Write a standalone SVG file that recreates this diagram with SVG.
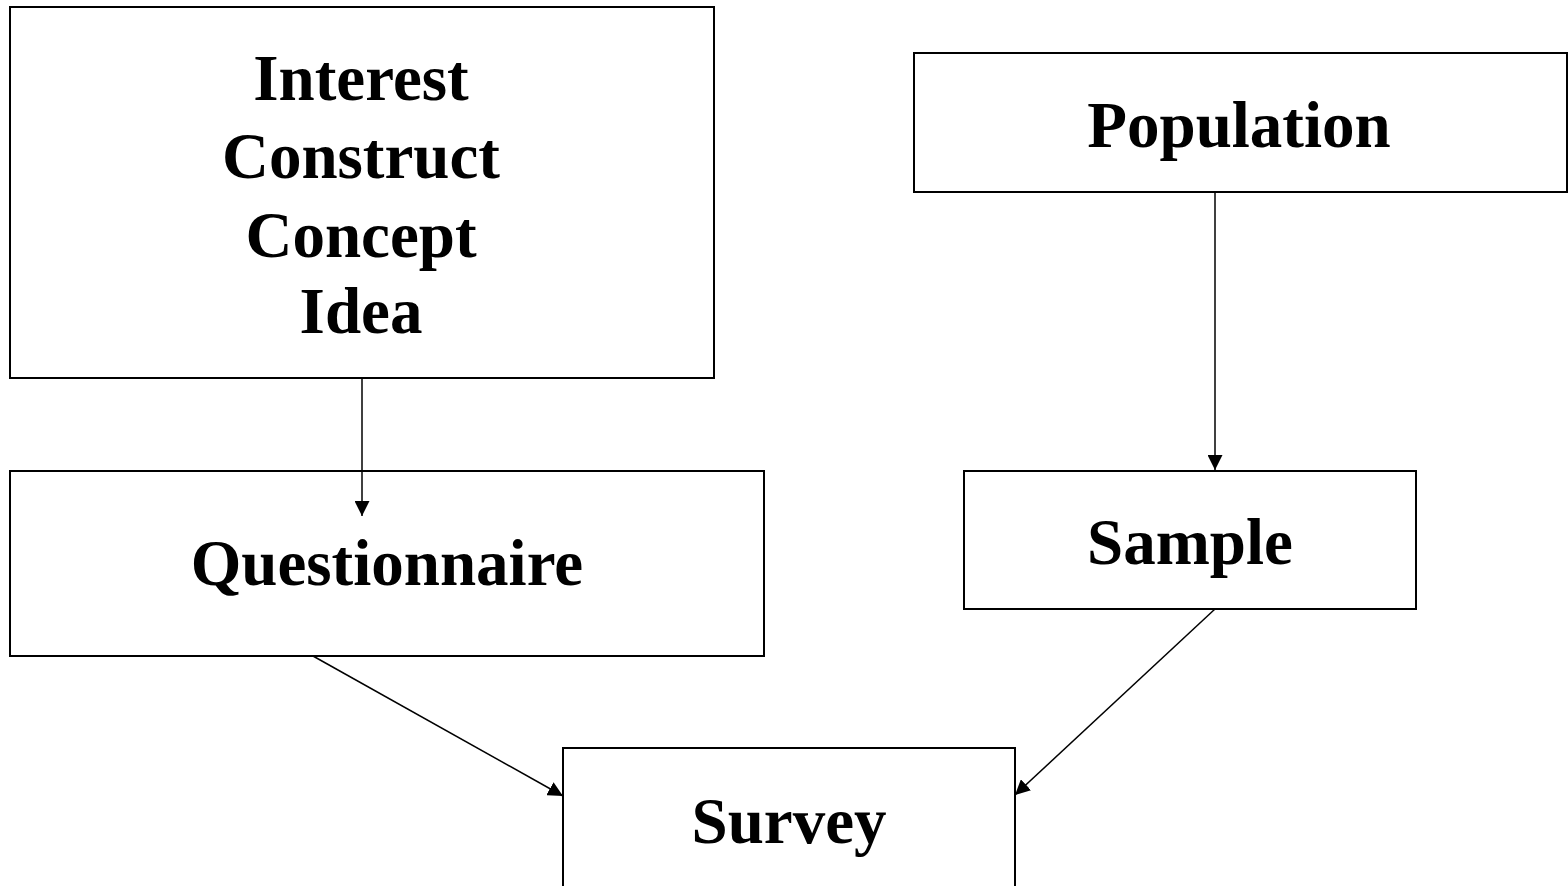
<svg xmlns="http://www.w3.org/2000/svg" width="1568" height="886" viewBox="0 0 1568 886">
<style>
.box{fill:#fff;stroke:#000;stroke-width:2}
.t{font-family:"Liberation Serif","Times New Roman",serif;font-weight:bold;font-size:65px;text-anchor:middle;fill:#000}
.c{stroke:#000;stroke-width:1.5;fill:none}
</style>
<defs>
<marker id="ah" viewBox="0 0 10 10" refX="10" refY="5" markerWidth="15" markerHeight="15" markerUnits="userSpaceOnUse" orient="auto">
<path d="M0,0 L10,5 L0,10 Z" fill="#000"/>
</marker>
</defs>
<rect width="1568" height="886" fill="#fff"/>
<g id="interest">
<rect class="box" x="10" y="7" width="704" height="371"/>
<text class="t" x="361" y="100">Interest</text>
<text class="t" x="361" y="178">Construct</text>
<text class="t" x="361" y="257">Concept</text>
<text class="t" x="361" y="333">Idea</text>
</g>
<g id="population">
<rect class="box" x="914" y="53" width="653" height="139"/>
<text class="t" x="1239" y="147">Population</text>
</g>
<g id="questionnaire">
<rect class="box" x="10" y="471" width="754" height="185"/>
<text class="t" x="387" y="585">Questionnaire</text>
</g>
<g id="sample">
<rect class="box" x="964" y="471" width="452" height="138"/>
<text class="t" x="1190" y="564">Sample</text>
</g>
<g id="survey">
<rect class="box" x="563" y="748" width="452" height="160"/>
<text class="t" x="789" y="843">Survey</text>
</g>
<g id="connectors">
<line class="c" x1="362" y1="378" x2="362" y2="516" marker-end="url(#ah)"/>
<line class="c" x1="1215" y1="192" x2="1215" y2="470" marker-end="url(#ah)"/>
<line class="c" x1="313" y1="656" x2="563" y2="796" marker-end="url(#ah)"/>
<line class="c" x1="1215" y1="609" x2="1015" y2="795" marker-end="url(#ah)"/>
</g>
</svg>
